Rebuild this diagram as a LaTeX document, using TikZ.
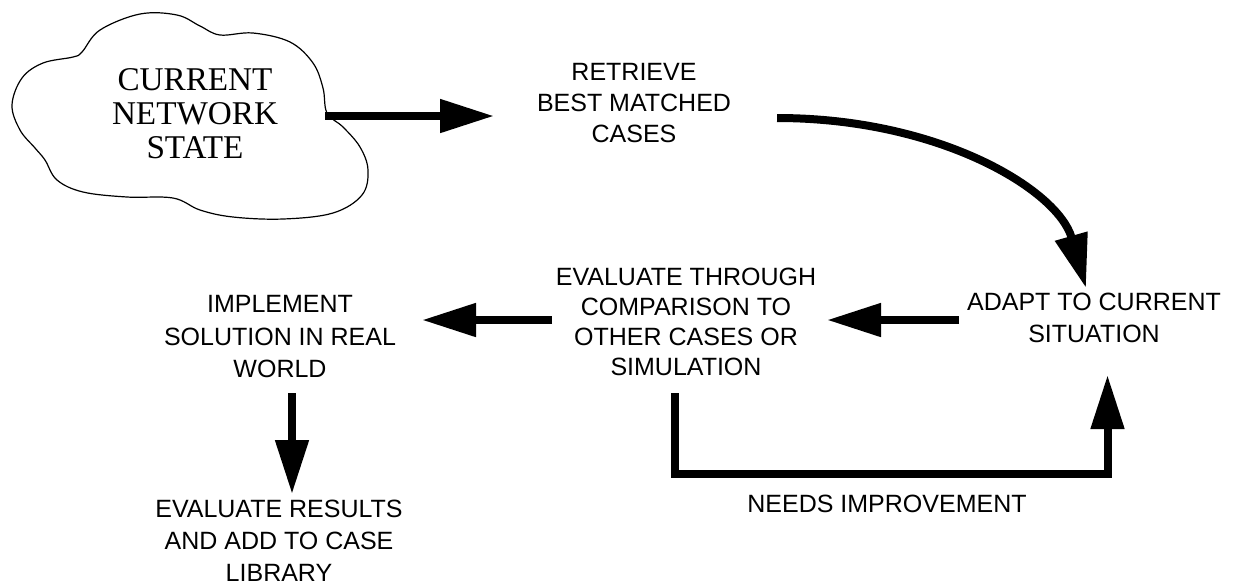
\documentclass[tikz,border=0pt]{standalone}
\usepackage{fontspec}
\setmainfont{Liberation Sans}
\newfontfamily\cloudfont{Liberation Serif}
\usetikzlibrary{arrows.meta}
\tikzset{
  lbl/.style={font=\fontsize{12.5}{15.5}\selectfont, align=center, inner sep=0pt, anchor=north},
  cloudlbl/.style={font=\cloudfont\fontsize{16.6}{17}\selectfont, align=center, inner sep=0pt, anchor=north},
  arr/.style={line width=4pt, line join=miter, -{Triangle[length=27pt,width=16pt]}},
  cloudline/.style={line width=0.6pt}
}
\begin{document}
\begin{tikzpicture}[x=0.5pt,y=-0.5pt]
\useasboundingbox (0,0) rectangle (1241,586);
% cloud
\draw[cloudline] plot[smooth cycle, tension=0.6] coordinates {
 (12,105) (22,78) (43,63) (73,57) (82,52) (100,30) (140,14) (177,15) (200,26) (220,35)
 (253,33) (290,42) (313,63) (323,88) (327,113) (343,127) (360,147) (368,170)
 (362,195) (333,213) (283,219) (233,217) (200,210) (173,198) (127,197) (83,192)
 (57,180) (45,160) (35,148) (20,130)};
\node[cloudlbl] (state) at (195,68) {CURRENT\\NETWORK\\STATE};
\node[lbl] (retrieve) at (634,63) {RETRIEVE\\BEST MATCHED\\CASES};
\node[lbl, font=\fontsize{12.5}{15}\selectfont] (eval) at (686,268) {EVALUATE THROUGH\\COMPARISON TO\\OTHER CASES OR\\SIMULATION};
\node[lbl, font=\fontsize{12.5}{16}\selectfont] (adapt) at (1094,293) {ADAPT TO CURRENT\\SITUATION};
\node[lbl, font=\fontsize{12.5}{16.25}\selectfont] (impl) at (280,295) {IMPLEMENT\\SOLUTION IN REAL\\WORLD};
\node[lbl, font=\fontsize{12.5}{16}\selectfont] (evalres) at (279,500) {EVALUATE RESULTS\\AND ADD TO CASE\\LIBRARY};
\node[lbl] (needs) at (887,495) {NEEDS IMPROVEMENT};
% connector end points
\coordinate (s1) at (325,116);
\coordinate (e1) at (494,116);
\coordinate (s2) at (777,118);
\coordinate (e2) at (1086,288);
\coordinate (s3) at (959,320);
\coordinate (e3) at (827,320);
\coordinate (s4) at (552,320);
\coordinate (e4) at (422,320);
\coordinate (s5) at (292,393);
\coordinate (e5) at (292,494);
\coordinate (s6) at (675,393);
\coordinate (e6) at (1107.5,375);
\draw[arr] (s1) -- (e1);
\draw[arr] (s2) .. controls (940,118) and (1058,190) .. (e2);
\draw[arr] (s3) -- (e3);
\draw[arr] (s4) -- (e4);
\draw[arr] (s5) -- (e5);
\draw[arr] (s6) -- (675,473.5) -- (1107.5,473.5) -- (e6);
\end{tikzpicture}
\end{document}
